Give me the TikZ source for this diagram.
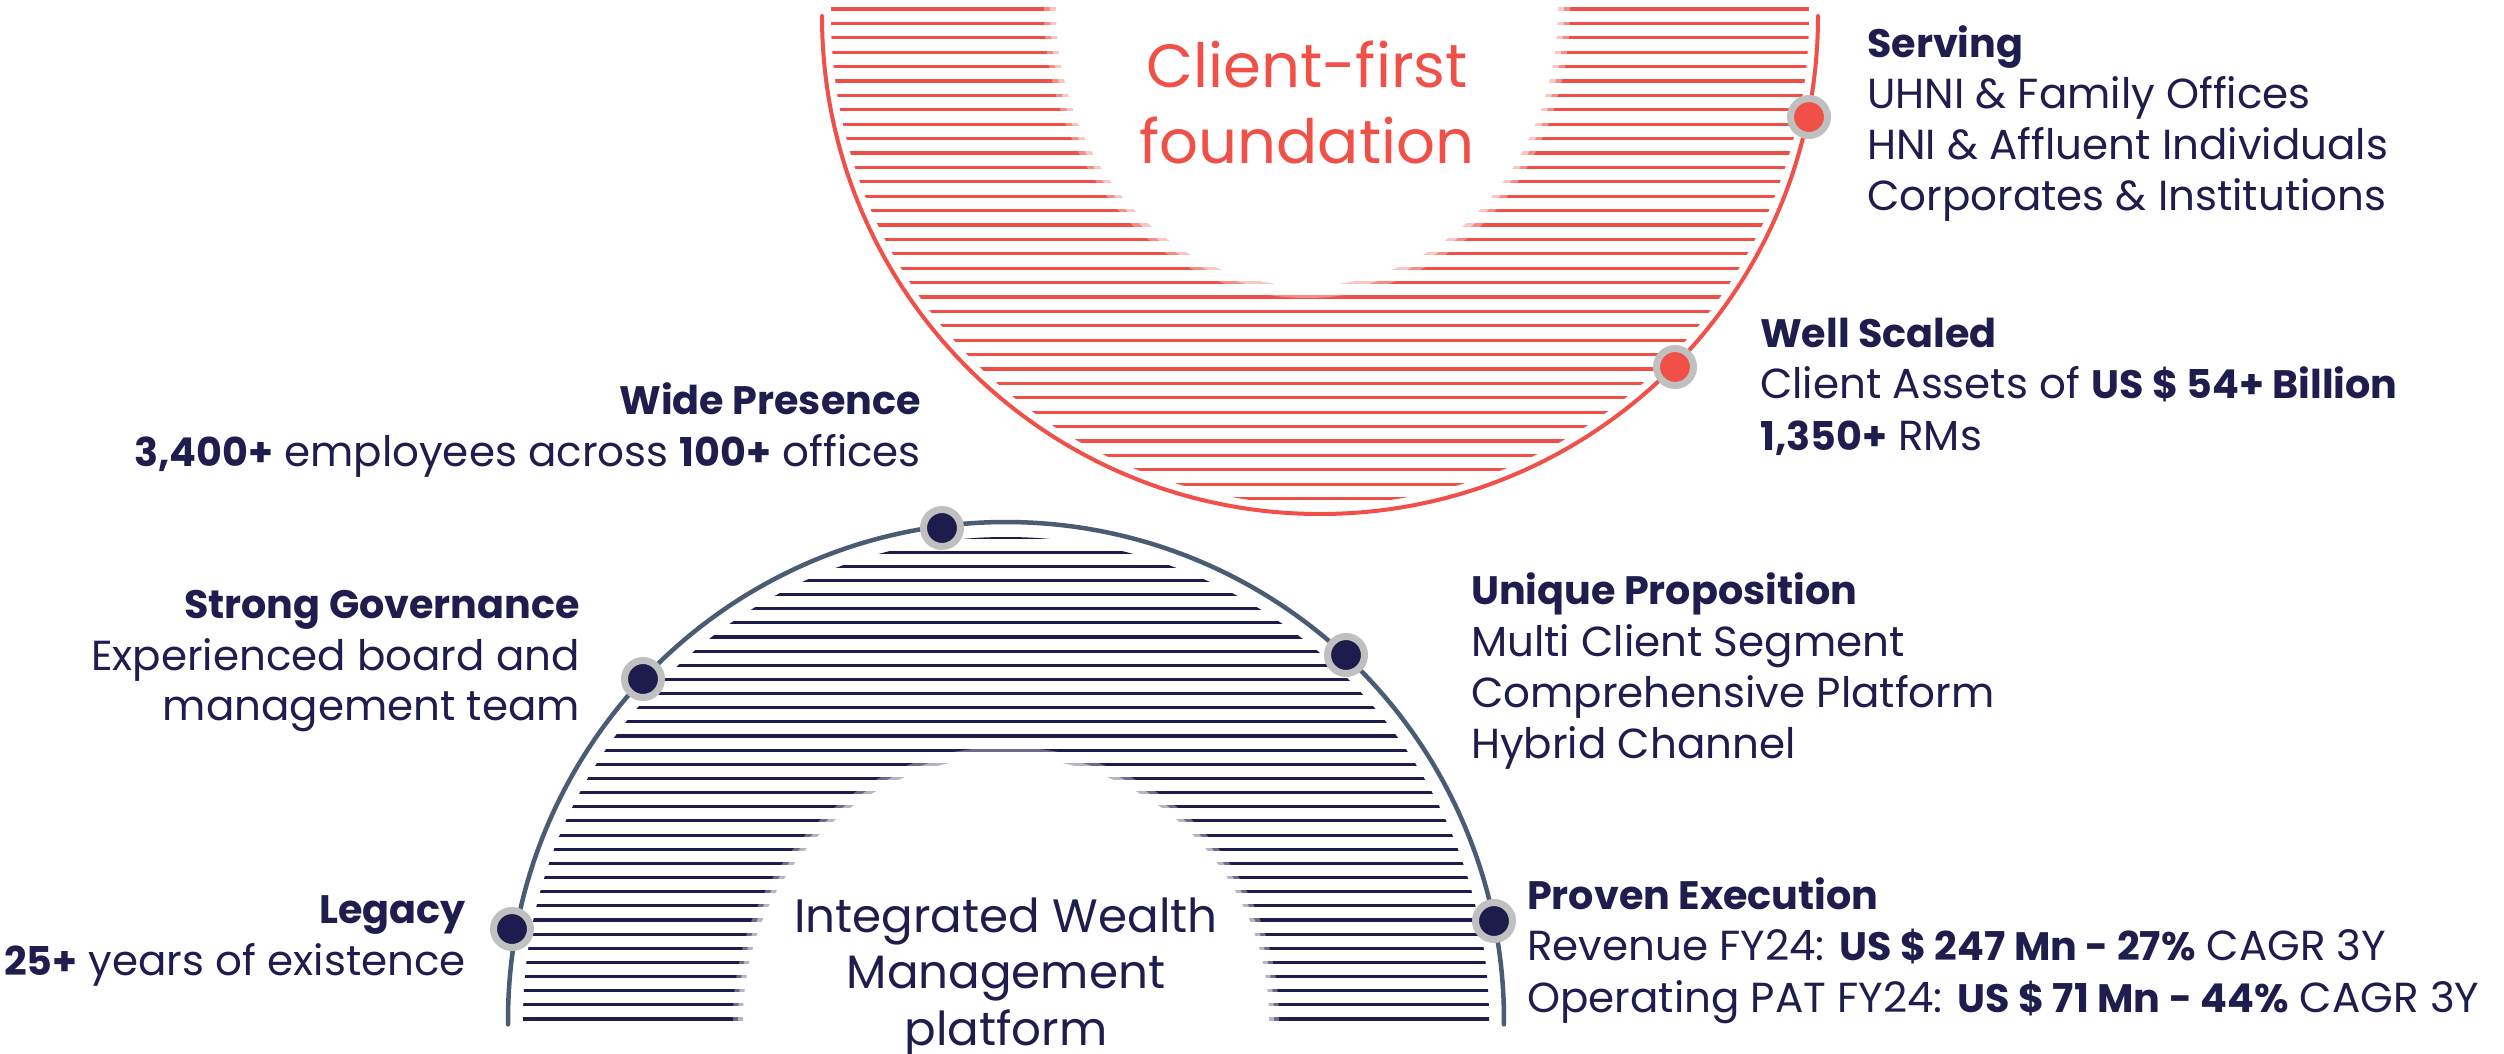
\documentclass[tikz,border=0pt]{standalone}
\usepackage{fontspec}
\setmainfont{Poppins}[BoldFeatures={Scale=0.945}]
\definecolor{cred}{RGB}{240,80,72}
\definecolor{cnavy}{RGB}{30,28,76}
\definecolor{cslate}{RGB}{74,92,115}
\definecolor{cring}{RGB}{192,192,192}
\definecolor{ctext}{RGB}{31,29,77}
\tikzset{
  lbl/.style={font=\fontsize{42}{50}\selectfont, text=ctext, inner sep=0pt},
  lw/.style={lbl, anchor=base west},
  le/.style={lbl, anchor=base east},
  bigred/.style={font=\fontsize{61}{72}\selectfont, text=cred, inner sep=0pt, anchor=base},
  bignavy/.style={font=\fontsize{46.8}{55}\selectfont, text=ctext, inner sep=0pt, anchor=base},
  ringdot/.style={circle, draw=cring, line width=7pt, minimum size=37pt, inner sep=0pt},
  redstripe/.style={cred, line width=3.2pt},
  navystripe/.style={cnavy, line width=3.1pt},
  redarc/.style={cred, line width=4pt, line cap=round},
  navyarc/.style={cslate, line width=4.5pt, line cap=round},
}
\begin{document}
\begin{tikzpicture}[x=1pt,y=1pt]
\useasboundingbox[fill=white] (0,0) rectangle (2504,-1054);

% ---------- red top shape ----------
\begin{scope}
  \clip (1320,-16) circle[radius=489];
  \foreach \k in {0,...,34}
    \draw[redstripe] (800,{-9-14.4*\k}) -- (1840,{-9-14.4*\k});
\end{scope}
\fill[white,opacity=0.35] (1307,-9) ellipse[x radius=263, y radius=289];
\fill[white,opacity=0.5] (1307,-9) ellipse[x radius=257, y radius=283];
\fill[white] (1307,-9) ellipse[x radius=251, y radius=277];
\draw[redarc] (822,-16) arc[start angle=180, end angle=360, radius=498];

% ---------- navy bottom shape ----------
\begin{scope}
  \clip (1006,-1020) circle[radius=483];
  \foreach \k in {0,...,34}
    \draw[navystripe] (500,{-1019+14.15*\k}) -- (1520,{-1019+14.15*\k});
\end{scope}
\fill[white,opacity=0.35] (1006,-1020) circle[radius=273];
\fill[white,opacity=0.5] (1006,-1020) circle[radius=268];
\fill[white] (1006,-1020) circle[radius=263];
\draw[navyarc] (1006,-1020) ++(180.5:498) arc[start angle=180.5, end angle=-0.5, radius=498];

% ---------- dots ----------
\node[ringdot, fill=cred] (dserv) at (1809,-117) {};
\node[ringdot, fill=cred] (dwell) at (1675,-367) {};
\node[ringdot, fill=cnavy] (dwide) at (942,-528) {};
\node[ringdot, fill=cnavy] (dgov) at (643,-679) {};
\node[ringdot, fill=cnavy] (dleg) at (512,-929) {};
\node[ringdot, fill=cnavy] (duniq) at (1346,-655) {};
\node[ringdot, fill=cnavy] (dprov) at (1494,-921) {};

% ---------- centre texts ----------
\node[bigred] (cf1) at (1307,-88) {Client-first};
\node[bigred] (cf2) at (1307,-164) {foundation};
\node[bignavy] (iw1) at (1006,-932) {Integrated Wealth};
\node[bignavy] (iw2) at (1006,-988) {Management};
\node[bignavy] (iw3) at (1006,-1045) {platform};

% ---------- labels ----------
\node[lw] (s1) at (1867,-58) {\textbf{Serving}};
\node[lw] (s2) at (1867,-109) {UHNI \& Family Offices};
\node[lw] (s3) at (1867,-160) {HNI \& Affluent Individuals};
\node[lw] (s4) at (1867,-211) {Corporates \& Institutions};

\node[lw] (w1) at (1760,-347) {\textbf{Well Scaled}};
\node[lw] (w2) at (1760,-398) {Client Assets of \textbf{US \$ 54+ Billion}};
\node[lw] (w3) at (1760,-450) {\textbf{1,350+} RMs};

\node[le] (p1) at (921,-414) {\textbf{Wide Presence}};
\node[le] (p2) at (921,-466) {\textbf{3,400+} employees across \textbf{100+} offices};

\node[le] (g1) at (580,-618) {\textbf{Strong Governance}};
\node[le] (g2) at (580,-670) {Experienced board and};
\node[le] (g3) at (580,-720) {management team};

\node[lw] (u1) at (1471,-604) {\textbf{Unique Proposition}};
\node[lw] (u2) at (1471,-656) {Multi Client Segment};
\node[lw] (u3) at (1471,-707) {Comprehensive Platform};
\node[lw] (u4) at (1471,-758) {Hybrid Channel};

\node[le] (l1) at (466,-923) {\textbf{Legacy}};
\node[le] (l2) at (466,-975) {\textbf{25+} years of existence};

\node[lw] (e1) at (1527,-909) {\textbf{Proven Execution}};
\node[lw] (e2) at (1527,-960) {Revenue FY24: \textbf{US \$ 247 Mn - 27\%} CAGR 3Y};
\node[lw] (e3) at (1527,-1012) {Operating PAT FY24: \textbf{US \$ 71 Mn - 44\%} CAGR 3Y};
\end{tikzpicture}
\end{document}
